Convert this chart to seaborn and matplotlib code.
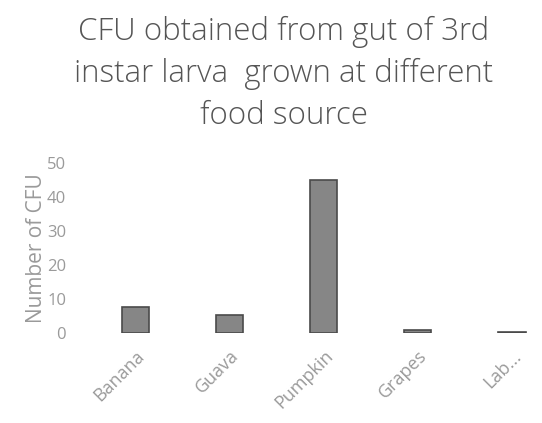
import seaborn as sns
import matplotlib.pyplot as plt
import pandas as pd

foods = ['Banana', 'Guava', 'Pumpkin', 'Grapes', 'Lab...']
cfu = [7.5, 5.2, 45, 1, 0.4]

sns.set_style('white')
plt.rcParams['font.family'] = ['Open Sans', 'DejaVu Sans']

df = pd.DataFrame({'food': foods, 'cfu': cfu})

fig = plt.figure(figsize=(5.42, 4.23), dpi=100)
ax = fig.add_axes([0.163, 0.213, 0.837, 0.402])
sns.barplot(data=df, x='food', y='cfu', color='#868686', width=0.29,
            edgecolor='#4a4a4a', linewidth=1.2, ax=ax, saturation=1)
ax.set_xlim(-0.5, 4.32)
ax.set_ylim(0, 50)
ax.set_yticks([0, 10, 20, 30, 40, 50])
sns.despine(left=True, bottom=True)
ax.tick_params(axis='both', length=0, colors='#9a9a9a', labelsize=13)
ax.tick_params(axis='y', pad=16, labelsize=12)
ax.tick_params(axis='x', pad=10)
plt.setp(ax.get_xticklabels(), rotation=45, ha='right', rotation_mode='anchor')
ax.set_xlabel('')
ax.set_ylabel('Number of CFU', color='#9a9a9a', fontsize=15, labelpad=0)
fig.text(0.524, 0.825, 'CFU obtained from gut of 3rd\ninstar larva  grown at different\nfood source',
         ha='center', va='center', fontsize=22.5, color='#555555', linespacing=1.42,
         fontweight='light')
fig.savefig('out.png', dpi=100)
